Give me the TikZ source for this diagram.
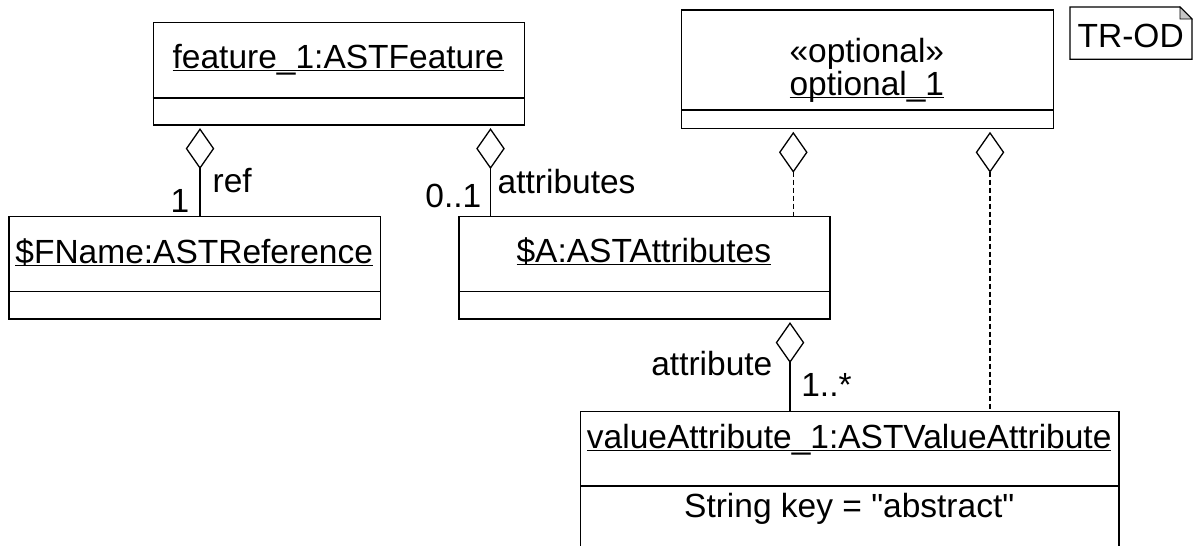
\documentclass[tikz,border=0pt]{standalone}
\usepackage{fontspec}
\setmainfont{Liberation Sans}[Ligatures=TeXOff]
\usetikzlibrary{arrows.meta,calc}
\newcommand\myul[1]{\setbox0\hbox{#1}\rlap{\rule[-3.3pt]{\wd0}{1.3pt}}\box0}
\begin{document}
\begin{tikzpicture}[x=1pt,y=-1pt, line width=1.3pt,
  box/.style={draw, rectangle, inner sep=0pt, anchor=north west},
  lbl/.style={inner sep=0pt, anchor=base, font=\fontsize{33.5}{40}\selectfont},
  agg/.style={{Diamond[open,length=41pt,width=28.6pt]}-, shorten <=2.5pt},
  dsh/.style={dash pattern=on 5pt off 3pt}]
\useasboundingbox (0,0) rectangle (1194,546);
\clip (0,0) rectangle (1194,546);
% boxes
\node[box, minimum width=371.3pt, minimum height=102.3pt] (feat) at (152.7,22) {};
\node[box, minimum width=371.7pt, minimum height=102.3pt] (fname) at (8.3,216) {};
\node[box, minimum width=371pt, minimum height=102.3pt] (attrs) at (458.3,216) {};
\node[box, minimum width=371.7pt, minimum height=118.7pt] (opt) at (681,9.3) {};
\node[box, minimum width=538.3pt, minimum height=200pt] (val) at (580,411) {};
% separators
\draw ($(feat.north west)+(0,76)$) -- ($(feat.north east)+(0,76)$);
\draw ($(fname.north west)+(0,75.7)$) -- ($(fname.north east)+(0,75.7)$);
\draw ($(attrs.north west)+(0,75.5)$) -- ($(attrs.north east)+(0,75.5)$);
\draw ($(opt.north west)+(0,100.7)$) -- ($(opt.north east)+(0,100.7)$);
\draw ($(val.north west)+(0,75)$) -- ($(val.north east)+(0,75)$);
% box texts
\node[lbl] (featT) at (338.4,68) {\myul{feature\_1:ASTFeature}};
\node[lbl] (fnameT) at (194.2,263) {\myul{\$FName:ASTReference}};
\node[lbl] (attrsT) at (643.8,262) {\myul{\$A:ASTAttributes}};
\node[lbl] (optS) at (866.8,62) {«optional»};
\node[lbl] (optT) at (866.8,95) {\myul{optional\_1}};
\node[lbl] (valT) at (849.2,448) {\myul{valueAttribute\_1:ASTValueAttribute}};
\node[lbl] (valA) at (849.2,517) {String key = "abstract"};
% note
\node[inner sep=0pt, minimum width=120.7pt, minimum height=51pt, anchor=north west] (note) at (1070,7) {};
\draw (note.north west) -- ($(note.north east)+(-12,0)$) -- ($(note.north east)+(0,12)$) -- (note.south east) -- (note.south west) -- cycle;
\filldraw[fill=gray!45, line width=0.8pt] ($(note.north east)+(-12,0)$) -- ($(note.north east)+(-12,12)$) -- ($(note.north east)+(0,12)$) -- cycle;
\node[lbl, anchor=base west] (noteT) at (1077,47) {TR-OD};
% connectors
\draw[agg] (feat.south -| 200,0) -- (fname.north -| 200,0);
\draw[agg] (feat.south -| 490.5,0) -- (attrs.north -| 490.5,0);
\draw[agg,dsh] (opt.south -| 793.3,0) -- (attrs.north -| 793.3,0);
\draw[agg,dsh] (opt.south -| 990,0) -- (val.north -| 990,0);
\draw[agg] (attrs.south -| 790,0) -- (val.north -| 790,0);
% connector labels
\node[lbl, anchor=base west] (lref) at (212,192) {ref};
\node[lbl, anchor=base east] (lone) at (190,212) {1};
\node[lbl, anchor=base east] (lzo) at (482,207) {0..1};
\node[lbl, anchor=base west] (latts) at (497,193) {attributes};
\node[lbl, anchor=base east] (latt) at (773,375) {attribute};
\node[lbl, anchor=base west] (lmany) at (800.7,396) {1..*};
\end{tikzpicture}
\end{document}
